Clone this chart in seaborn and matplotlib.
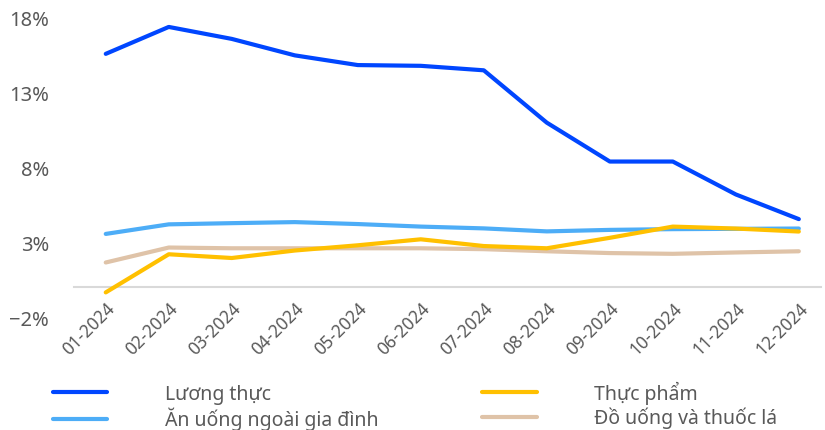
import matplotlib.pyplot as plt
import pandas as pd
import seaborn as sns
from matplotlib.ticker import FuncFormatter

MONTHS = ["01-2024", "02-2024", "03-2024", "04-2024", "05-2024", "06-2024",
          "07-2024", "08-2024", "09-2024", "10-2024", "11-2024", "12-2024"]

LUONG_THUC = [15.6, 17.4, 16.6, 15.5, 14.85, 14.8, 14.5, 11.0, 8.4, 8.4, 6.2, 4.55]
AN_UONG = [3.56, 4.2, 4.28, 4.35, 4.22, 4.05, 3.93, 3.73, 3.83, 3.88, 3.9, 3.92]
THUC_PHAM = [-0.35, 2.2, 1.95, 2.45, 2.8, 3.2, 2.75, 2.6, 3.3, 4.05, 3.92, 3.72]
DO_UONG = [1.65, 2.65, 2.6, 2.6, 2.6, 2.6, 2.54, 2.4, 2.28, 2.23, 2.32, 2.4]

SERIES = ["Lương thực", "Ăn uống ngoài gia đình", "Thực phẩm", "Đồ uống và thuốc lá"]
COLORS = ["#0046FF", "#4DADF7", "#FFC000", "#DFC3A8"]
Y_TICKS = [-2, 3, 8, 13, 18]

TEXT_COLOR = "#595959"


def build_frame() -> pd.DataFrame:
    values = [LUONG_THUC, AN_UONG, THUC_PHAM, DO_UONG]
    frames = []
    for name, vals in zip(SERIES, values):
        frames.append(pd.DataFrame({"month": MONTHS, "idx": range(len(MONTHS)),
                                    "value": vals, "series": name}))
    return pd.concat(frames, ignore_index=True)


def main() -> None:
    sns.set_theme(style="white")
    plt.rcParams["font.family"] = ["Noto Sans", "DejaVu Sans"]

    df = build_frame()

    fig = plt.figure(figsize=(8.25, 4.31), dpi=100)
    ax = fig.add_axes([0.09, 0.262, 0.905, 0.694])

    # draw order: beige, light blue, yellow, dark blue on top
    draw_order = [3, 1, 2, 0]
    for i in draw_order:
        sub = df[df["series"] == SERIES[i]]
        sns.lineplot(data=sub, x="idx", y="value", ax=ax, color=COLORS[i],
                     linewidth=3.0, label=SERIES[i], legend=False,
                     solid_capstyle="round", solid_joinstyle="round")

    ax.set_xlim(-0.5, 11.35)
    ax.set_ylim(-2, 18)
    ax.set_yticks(Y_TICKS)
    ax.yaxis.set_major_formatter(FuncFormatter(lambda v, _: f"{v:.0f}%".replace("-", "\u2212")))
    ax.set_xticks(range(len(MONTHS)))
    ax.set_xticklabels(MONTHS)
    ax.set_xlabel("")
    ax.set_ylabel("")

    for side in ["top", "right", "left"]:
        ax.spines[side].set_visible(False)
    ax.spines["bottom"].set_position(("data", 0))
    ax.spines["bottom"].set_color("#D9D9D9")
    ax.spines["bottom"].set_linewidth(1.5)
    ax.spines["bottom"].set_zorder(0)

    ax.tick_params(axis="y", length=0, pad=18, labelsize=14.5, labelcolor=TEXT_COLOR)
    ax.tick_params(axis="x", length=0, pad=8, labelsize=12.5, labelcolor=TEXT_COLOR)
    plt.setp(ax.get_xticklabels(), rotation=45, ha="right", rotation_mode="anchor")

    handles = {h.get_label(): h for h in ax.get_lines()}
    ordered = [handles[s] for s in SERIES]
    fig.legend(ordered, SERIES, ncol=2, loc="upper left",
               bbox_to_anchor=(0.064, 0.114), frameon=False,
               fontsize=14, labelcolor=TEXT_COLOR, handlelength=2.8,
               handletextpad=2.95, columnspacing=5.35, labelspacing=0.15,
               borderpad=0, borderaxespad=0)

    fig.savefig("out.png", dpi=100)
    plt.close(fig)


if __name__ == "__main__":
    main()
